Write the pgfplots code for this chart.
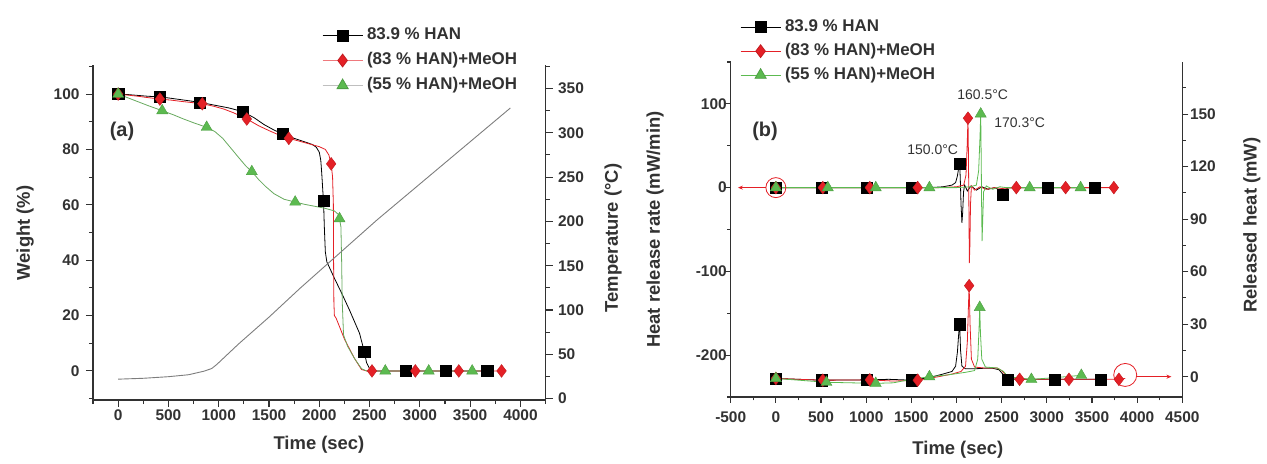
\documentclass[border=0pt]{standalone}
\usepackage{pgfplots}
\pgfplotsset{compat=1.18}
\usepackage{fontspec}
\setmainfont{Liberation Sans}
\usetikzlibrary{arrows.meta}

\definecolor{hanred}{RGB}{228,32,38}
\definecolor{hangreen}{RGB}{92,186,80}
\definecolor{tempgray}{RGB}{125,125,125}
\definecolor{axisgray}{RGB}{50,50,50}

\pgfplotsset{
  panel/.style={
    scale only axis,
    anchor=south west,
    height=335bp,
    tick align=outside,
    major tick length=7bp, minor tick length=4bp,
    axis line style={axisgray, line width=1.3bp},
    every tick/.style={axisgray, line width=1.1bp},
    tick label style={font=\fontsize{15.5}{18}\selectfont\bfseries, text=axisgray},
    label style={font=\fontsize{18.5}{22}\selectfont\bfseries, text=axisgray},
    /pgf/number format/assume math mode=true,
    /pgf/number format/1000 sep={},
    scaled ticks=false,
    legend image code/.code={\draw[mark repeat=2,mark phase=2] plot coordinates {(0bp,0bp) (20bp,0bp) (40bp,0bp)};},
  },
  hanlegend/.style={
    legend style={draw=none, fill=none, inner sep=0pt, row sep=9bp, column sep=4bp,
      font=\fontsize{17}{20}\selectfont\bfseries, text=axisgray,
      nodes={inner sep=0pt, text height=12.3bp, text depth=3.6bp}},
    legend cell align=left,
  },
  sq/.style={mark=square*, mark size=5.6bp, mark options={fill=black, draw=black, solid}},
  dm/.style={mark=diamond*, mark size=6.4bp, mark options={fill=hanred, draw=hanred!85!black, solid}},
  tr/.style={mark=triangle*, mark size=6.4bp, mark options={fill=hangreen, draw=hangreen!85!black, solid}},
  thin curve/.style={line width=0.8bp, no marks, forget plot},
}

\begin{document}
\begin{tikzpicture}
\useasboundingbox (0,0) rectangle (1267bp,464bp);

% ---------------- (a) weight loss and temperature ----------------
\begin{axis}[panel, at={(93bp,64bp)}, width=452.6bp,
  xmin=-250, xmax=4250, ymin=-10.5, ymax=110.5,
  axis x line*=bottom, axis y line*=left,
  xtick={0,500,...,4000}, minor xtick={-250,250,...,4250},
  ytick={0,20,...,100}, minor ytick={-10,10,...,110},
  xticklabel style={yshift=1bp}, yticklabel style={xshift=-3bp},
  xlabel={Time (sec)}, ylabel={Weight (\%)},
  xlabel style={at={(axis description cs:0.4993,-0.134)}, anchor=center},
  ylabel style={at={(axis description cs:-0.150,0.4985)}, anchor=center},
  hanlegend,
  legend style={at={(axis description cs:0.506,1.112)}, anchor=north west},
]
\addplot[black, thin curve] coordinates {
 (0,100) (100,99.8) (200,99.5) (300,99.2) (415,99) (500,98.6) (600,98.1) (700,97.6)
 (814,97) (900,96.4) (1000,95.7) (1100,95) (1235,93.7) (1350,91.5) (1450,89) (1550,87)
 (1637,85.6) (1750,84) (1850,82.8) (1930,81.8) (1970,80.8) (2000,79) (2015,76) (2025,71)
 (2035,65) (2042,61.6) (2050,52) (2060,43) (2075,39.4) (2150,33.5) (2230,27.5) (2300,22)
 (2400,13.6) (2447,7) (2470,3) (2500,0.8) (2550,0) (3000,0) (3669,0)};
\addplot[hanred, thin curve] coordinates {
 (0,100) (100,99.6) (200,99.2) (300,98.7) (415,98.2) (530,97.8) (640,97.3) (740,96.9)
 (837,96.5) (950,95.6) (1050,94.6) (1150,93.2) (1279,91) (1400,88.5) (1500,86.8) (1600,85.2)
 (1697,84) (1800,83) (1900,82) (2000,81) (2060,80) (2095,78) (2118,74.8) (2132,70)
 (2140,60) (2142,40) (2145,25) (2150,20) (2168,19) (2250,11.5) (2350,4.5) (2420,0.5)
 (2470,0) (2524,0) (3000,0) (3812,0)};
\addplot[hangreen!70!gray, thin curve] coordinates {
 (0,100) (100,98.6) (200,97.2) (300,95.8) (438,94) (550,92.5) (650,91) (760,89.5)
 (880,88) (960,86.5) (1040,84) (1120,80.5) (1200,77) (1270,74) (1329,72) (1400,69)
 (1470,66.5) (1550,64) (1650,62) (1760,61) (1850,60.2) (1950,59.5) (2050,58.8) (2150,57.8)
 (2190,56.5) (2201,55) (2215,52) (2222,40) (2228,25) (2241,13) (2280,9) (2350,4.5)
 (2420,0.8) (2470,0) (2656,0) (3000,0) (3600,0)};
\addplot[only marks, sq, forget plot] coordinates {
 (0,100) (415,99) (814,97) (1235,93.7) (1637,85.6) (2042,61.6) (2447,7) (2856,0) (3254,0) (3669,0)};
\addplot[only marks, dm, forget plot] coordinates {
 (0,100) (415,98.2) (837,96.5) (1279,91) (1697,84) (2118,74.8) (2524,0) (2955,0) (3387,0) (3812,0)};
\addplot[only marks, tr, forget plot] coordinates {
 (0,100) (438,94) (880,88) (1329,72) (1760,61) (2201,55) (2656,0) (3088,0) (3520,0)};
\addlegendimage{black, line width=0.8bp, sq}
\addlegendentry{83.9 \% HAN}
\addlegendimage{hanred!60, line width=0.8bp, dm}
\addlegendentry{(83 \% HAN)+MeOH}
\addlegendimage{gray!50, line width=0.8bp, tr}
\addlegendentry{(55 \% HAN)+MeOH}
\node[font=\fontsize{20}{24}\selectfont\bfseries, text=axisgray] at (axis description cs:0.064,0.801) {(a)};
\end{axis}

\begin{axis}[panel, at={(93bp,64bp)}, width=452.6bp,
  xmin=-250, xmax=4250, ymin=-1.5, ymax=376.5,
  axis x line=none, axis y line*=right,
  ytick={0,50,...,350}, minor ytick={25,75,...,375},
  yticklabel style={xshift=2bp},
  ylabel={Temperature (°C)},
  ylabel style={at={(axis description cs:1.149,0.4836)}, anchor=center},
]
\addplot[tempgray, line width=0.9bp, no marks] coordinates {
 (0,22) (250,23) (500,24.8) (700,27) (853,31) (930,34) (980,38.5) (1050,46) (1200,62)
 (1500,92) (1809,124.6) (2574,201.7) (3900,328)};
\end{axis}

% ---------------- (b) heat release rate and released heat ----------------
\begin{axis}[panel, at={(730.7bp,67bp)}, width=451.6bp,
  major tick length=6bp, minor tick length=3.5bp,
  xmin=-500, xmax=4500, ymin=-250, ymax=150,
  axis x line*=bottom, axis y line*=left,
  xtick={-500,0,...,4500}, minor xtick={-250,250,...,4250},
  ytick={-200,-100,0,100}, minor ytick={-250,-150,-50,50,150},
  xticklabel style={yshift=-5bp}, yticklabel style={xshift=5.5bp},
  xlabel={Time (sec)}, ylabel={Heat release rate (mW/min)},
  xlabel style={at={(axis description cs:0.503,-0.158)}, anchor=center},
  ylabel style={at={(axis description cs:-0.1676,0.5)}, anchor=center},
  hanlegend,
  legend style={at={(axis description cs:0.0206,1.128)}, anchor=north west, row sep=8bp},
]
\addplot[black, thin curve] coordinates {
 (0,0) (507,0) (1010,0) (1508,0) (1700,0) (1850,1) (1950,3) (1990,6) (2010,14) (2025,24)
 (2035,29) (2042,10) (2050,-20) (2060,-42) (2068,-30) (2078,-5) (2090,3) (2120,-4) (2160,2)
 (2220,-3) (2280,1) (2350,-2) (2420,0) (2480,-3) (2514,-8.3) (2545,-2) (2580,0) (3012,0) (3529,0)};
\addplot[hanred, thin curve] coordinates {
 (0,0) (520,0) (1040,0) (1570,0) (1800,0) (2000,1) (2080,3) (2105,15) (2118,50) (2127,82.9)
 (2132,40) (2137,-20) (2142,-90) (2148,-70) (2155,-20) (2165,2) (2200,-3) (2260,1) (2330,-2)
 (2420,0) (2500,-1) (2662,0) (3208,0) (3742,0)};
\addplot[hangreen, thin curve] coordinates {
 (0,0) (575,0) (1106,0) (1700,0) (2000,0) (2150,1) (2220,3) (2245,20) (2260,60) (2268,88)
 (2273,40) (2278,-20) (2283,-64) (2290,-40) (2300,-5) (2330,2) (2400,-2) (2480,1) (2550,0)
 (2810,0) (3374,0)};
\addplot[only marks, sq, forget plot] coordinates {
 (0,0) (507,0) (1010,0) (1508,0) (2035,29) (2514,-8.3) (3012,0) (3529,0)};
\addplot[only marks, dm, forget plot] coordinates {
 (0,0) (520,0) (1040,0) (1570,0) (2127,82.9) (2662,0) (3208,0) (3742,0)};
\addplot[only marks, tr, forget plot] coordinates {
 (0,0) (575,0) (1106,0) (1700,0) (2268,88) (2810,0) (3374,0)};
\addlegendimage{black, line width=0.8bp, sq}
\addlegendentry{83.9 \% HAN}
\addlegendimage{hanred, line width=0.8bp, dm}
\addlegendentry{(83 \% HAN)+MeOH}
\addlegendimage{hangreen, line width=0.8bp, tr}
\addlegendentry{(55 \% HAN)+MeOH}
% this curve set belongs to the left axis
\draw[hanred, line width=0.8bp] (axis cs:0,0) circle[radius=10bp];
\draw[hanred, line width=1bp, -{Stealth[length=5bp,width=4bp]}] (axis cs:-110,0) -- (axis cs:-420,0);
\node[font=\fontsize{20}{24}\selectfont\bfseries, text=axisgray] at (axis description cs:0.076,0.792) {(b)};
\node[font=\fontsize{14}{17}\selectfont, text=axisgray] at (axis cs:1737,45.2) {150.0°C};
\node[font=\fontsize{14}{17}\selectfont, text=axisgray] at (axis cs:2290,110.6) {160.5°C};
\node[font=\fontsize{14}{17}\selectfont, text=axisgray] at (axis cs:2699,77.3) {170.3°C};
\end{axis}

\begin{axis}[panel, at={(730.7bp,67bp)}, width=451.6bp,
  major tick length=6bp, minor tick length=3.5bp,
  xmin=-500, xmax=4500, ymin=-11.6, ymax=179.8,
  axis x line=none, axis y line*=right,
  ytick={0,30,...,180}, minor ytick={15,45,...,165},
  yticklabel style={xshift=-1.8bp},
  ylabel={Released heat (mW)},
  ylabel style={at={(axis description cs:1.154,0.513)}, anchor=center},
]
\addplot[black, thin curve] coordinates {
 (0,-1) (507,-2) (1010,-1.8) (1250,-1.5) (1508,-2) (1700,-0.5) (1850,1.5) (1950,3) (1990,6)
 (2010,14) (2025,25) (2035,30) (2045,15) (2060,6) (2100,4.5) (2200,4.5) (2300,4.8) (2400,4.8)
 (2470,4) (2520,1) (2570,-1.5) (3086,-1.5) (3595,-1.5)};
\addplot[hanred, thin curve] coordinates {
 (0,-1) (520,-2) (1040,-1.8) (1300,-2.5) (1570,-2) (1800,0) (1950,1.5) (2050,3) (2100,6)
 (2120,20) (2135,45) (2140,52) (2150,30) (2165,10) (2200,5.5) (2300,5) (2450,5) (2500,3.5)
 (2560,0) (2699,-1.5) (3245,-1.5) (3798,-1.5) (3868,-1)};
\addplot[hangreen, thin curve] coordinates {
 (0,-1) (560,-3.2) (1106,-3.8) (1300,-3.5) (1500,-1.5) (1700,0) (1900,1) (2100,2.5) (2200,3.5)
 (2235,10) (2250,28) (2257,39.6) (2265,25) (2280,10) (2320,5.5) (2450,5) (2520,3) (2570,0)
 (2829,-1.5) (3100,-0.5) (3382,0.8)};
\addplot[only marks, sq] coordinates {
 (0,-1) (507,-2) (1010,-1.8) (1508,-2) (2035,30) (2570,-1.5) (3086,-1.5) (3595,-1.5)};
\addplot[only marks, dm] coordinates {
 (0,-1) (520,-2) (1040,-1.8) (1570,-2) (2140,52) (2699,-1.5) (3245,-1.5) (3798,-1.5)};
\addplot[only marks, tr] coordinates {
 (0,-1) (560,-3.2) (1106,-3.8) (1700,0) (2257,39.6) (2829,-1.5) (3382,0.8)};
% this curve set belongs to the right axis
\draw[hanred, line width=0.8bp] (axis cs:3868,1) circle[radius=11.5bp];
\draw[hanred, line width=1bp, -{Stealth[length=5bp,width=4bp]}] (axis cs:3995,0) -- (axis cs:4380,0);
\end{axis}
\end{tikzpicture}
\end{document}
